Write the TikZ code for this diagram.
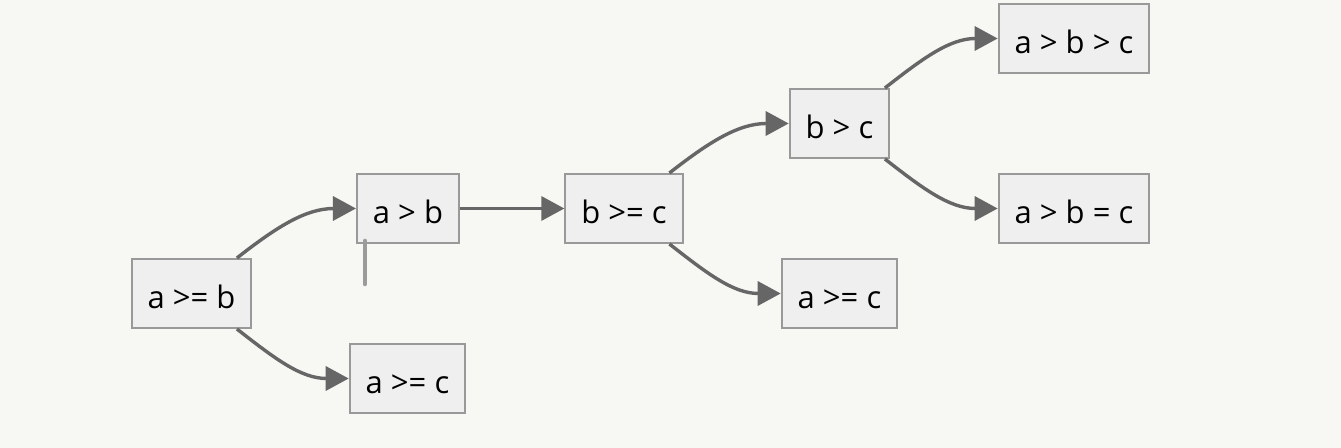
\documentclass[tikz,border=0pt]{standalone}
\usepackage{fontspec}
\setmainfont{Open Sans}
\usepackage{tikz}
\usetikzlibrary{arrows,arrows.meta,calc}
\newcommand*{\xMax}{1341}
\newcommand*{\yMax}{448}
\definecolor{bgcol}{RGB}{247,247,243}
\definecolor{boxfill}{RGB}{239,239,239}
\definecolor{boxline}{RGB}{153,153,153}
\definecolor{edgecol}{RGB}{102,102,102}
\definecolor{straycol}{RGB}{155,155,155}

\begin{document}
\begin{tikzpicture}[x=0.5pt,y=-0.5pt,
	cmpbox/.style={draw=boxline,fill=boxfill,line width=1pt,minimum height=34.5pt,inner xsep=8pt,text height=15pt,text depth=0pt,font=\fontsize{15.5}{18}\selectfont},
	edge/.style={draw=edgecol,line width=1.7pt,-{Triangle[width=12pt,length=11.5pt]}}]
%
%\draw[step=50,gray,very thin,opacity=0.2] (0,0) grid (\xMax,\yMax);
%
\fill[bgcol] (0,0) rectangle (\xMax,\yMax);
\useasboundingbox (0,0) rectangle (\xMax,\yMax);

% first level
\node[cmpbox] (aGEb) at (191.5,293.5) {a >= b};
\node[cmpbox] (aGb) at (408,208.5) {a > b};
\node[cmpbox] (aGEc) at (407.5,378.5) {a >= c};

% second level
\node[cmpbox] (bGEc) at (624,208.5) {b >= c};
\node[cmpbox] (bGc) at (839.5,123.5) {b > c};
\node[cmpbox] (aGEcb) at (839.5,293.5) {a >= c};

% leaves
\node[cmpbox] (aGbGc) at (1074,38.5) {a > b > c};
\node[cmpbox] (aGbEc) at (1074,208.5) {a > b = c};

\draw[edge] (aGEb) to[out=38,in=180] (aGb);
\draw[edge] (aGEb) to[out=-38,in=180] (aGEc);
\draw[edge] (aGb) -- (bGEc);
\draw[edge] (bGEc) to[out=38,in=180] (bGc);
\draw[edge] (bGEc) to[out=-38,in=180] (aGEcb);
\draw[edge] (bGc) to[out=38,in=180] (aGbGc);
\draw[edge] (bGc) to[out=-38,in=180] (aGbEc);

% stray mark under a > b
\draw[straycol,line width=2.3pt,line cap=round] ($(aGb.south west)+(9,-3)$) -- ++(0,43);
\end{tikzpicture}
\end{document}
